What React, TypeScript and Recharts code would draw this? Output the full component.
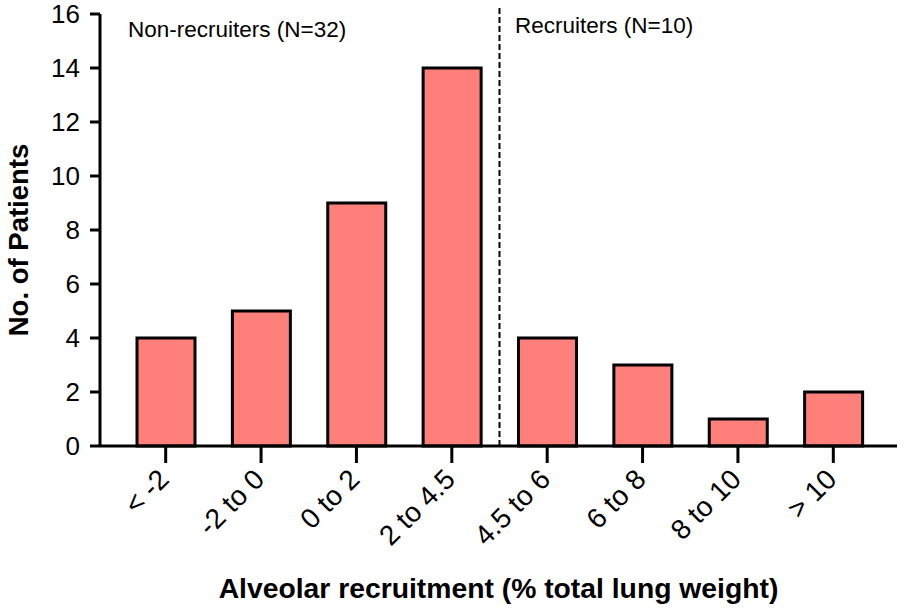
import React from 'react';
import {BarChart, Bar, XAxis, YAxis, ReferenceLine} from 'recharts';

// bins of alveolar recruitment and how many patients fall in each
const bins: string[] = ['< -2', '-2 to 0', '0 to 2', '2 to 4.5', '4.5 to 6', '6 to 8', '8 to 10', '> 10'];
const patients: number[] = [4, 5, 9, 14, 4, 3, 1, 2];
const yTicks: number[] = [0, 2, 4, 6, 8, 10, 12, 14, 16];

const data = bins.map((b, i) => ({bin: b, n: patients[i]}));

const font = 'Arial, "Liberation Sans", Helvetica, sans-serif';

function RotatedTick(props: any) {
    const {x, y, payload} = props;
    return (
        <g transform={`translate(${x - 5},${y + 6})`}>
            <text x={0} y={0} dy={14} textAnchor="end" transform="rotate(-45)"
                  fontSize={28} fontFamily={font} fill="#000">
                {payload.value}
            </text>
        </g>
    );
}

function App() {
    return (
        <div style={{position: 'absolute', left: 0, top: 0, width: 904, height: 608, background: '#fff'}}>
            <BarChart width={904} height={608} data={data}
                      margin={{top: 14, right: 7, bottom: 0, left: 0}} barSize={58}>
                <XAxis dataKey="bin" height={162} padding={{left: 18, right: 16}}
                       axisLine={{stroke: '#000', strokeWidth: 3}}
                       tickLine={{stroke: '#000', strokeWidth: 3}} tickSize={17} tickMargin={2}
                       tick={<RotatedTick/>} interval={0}
                       label={{value: 'Alveolar recruitment (% total lung weight)', position: 'insideBottom',
                           offset: 10, fontSize: 28.3, fontWeight: 'bold', fontFamily: font, fill: '#000'}}/>
                <YAxis domain={[0, 16]} ticks={yTicks} width={100} interval={0}
                       axisLine={{stroke: '#000', strokeWidth: 3}}
                       tickLine={{stroke: '#000', strokeWidth: 3}} tickSize={10} tickMargin={10}
                       tick={{fontSize: 26, fontFamily: font, fill: '#000'}}/>
                <ReferenceLine segment={[{x: '2 to 4.5', y: 0}, {x: '2 to 4.5', y: 16.3}]}
                               position="end" ifOverflow="visible"
                               stroke="#000" strokeWidth={2} strokeDasharray="6 3"/>
                <Bar dataKey="n" fill="#FF7F7A" stroke="#000" strokeWidth={3} isAnimationActive={false}/>
                <text transform="translate(28,240) rotate(-90)" textAnchor="middle"
                      fontSize={27.5} fontWeight="bold" fontFamily={font} fill="#000">No. of Patients</text>
                <text x={128} y={37} fontSize={22.5} fontFamily={font} fill="#000">Non-recruiters (N=32)</text>
                <text x={515} y={33} fontSize={22.5} fontFamily={font} fill="#000">Recruiters (N=10)</text>
            </BarChart>
        </div>
    );
}

export default App;
